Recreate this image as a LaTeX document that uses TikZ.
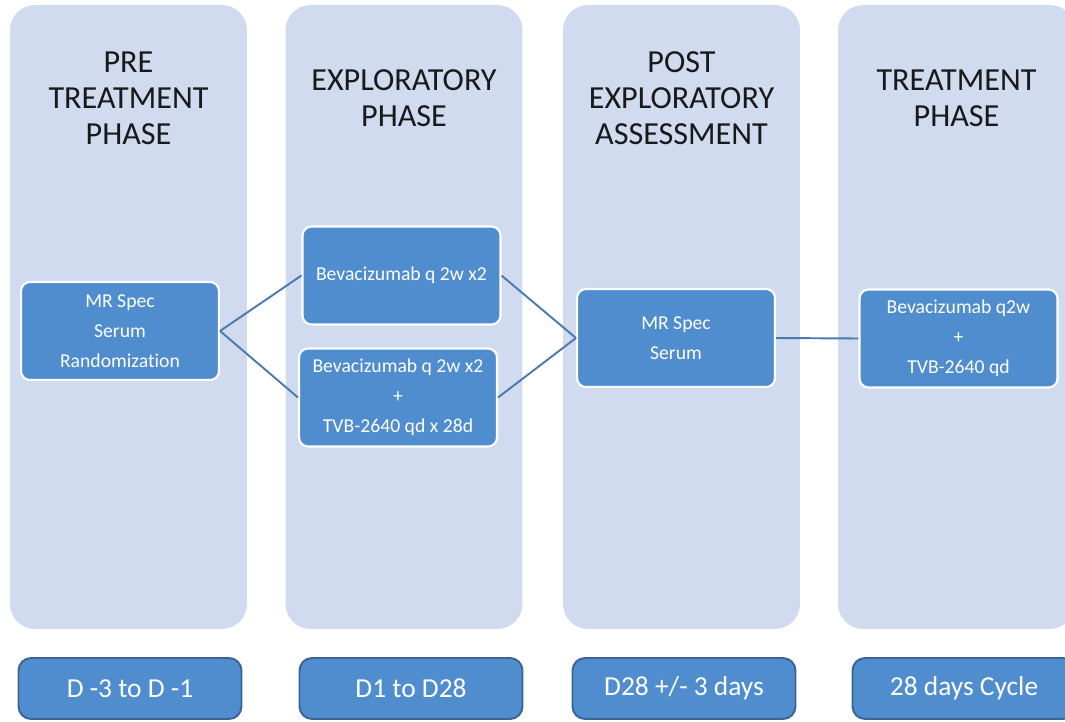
\documentclass[tikz,border=0pt]{standalone}
\usepackage{fontspec}
\setmainfont{Carlito}[Ligatures=NoCommon]
\usepackage{xcolor}
\definecolor{phasebg}{RGB}{208,219,239}
\definecolor{taskblue}{RGB}{80,141,207}
\definecolor{perioddraw}{RGB}{58,100,148}
\definecolor{linkblue}{RGB}{76,122,172}

\begin{document}
\begin{tikzpicture}[
    x=0.02cm, y=-0.02cm,
    phase/.style={rectangle, rounded corners=0.5cm, fill=phasebg, minimum width=4.74cm, minimum height=12.48cm},
    title/.style={align=center, font=\fontsize{18.3}{20.5}\selectfont, text=black!90},
    task/.style={rectangle, rounded corners=0.18cm, draw=white, line width=1.2pt, fill=taskblue, minimum width=3.96cm, minimum height=1.96cm, align=center, text=white, font=\fontsize{11.2}{17}\selectfont},
    period/.style={rectangle, rounded corners=0.25cm, draw=perioddraw, line width=1.1pt, fill=taskblue, minimum width=4.46cm, minimum height=1.22cm, text=white, font=\fontsize{15.6}{18}\selectfont},
    link/.style={draw=linkblue, line width=1.1pt}
]
    \path[use as bounding box, clip] (0,0) rectangle (1065,721);

    % phase columns
    \node[phase] (pre)  at (128.5,317) {};
    \node[phase] (expl) at (404,317) {};
    \node[phase] (post) at (681.5,317) {};
    \node[phase] (trt)  at (956.5,317) {};

    \node[title] (preT)  at (128.5,98.5) {PRE\\TREATMENT\\PHASE};
    \node[title] (explT) at (404,98.5) {EXPLORATORY\\PHASE};
    \node[title] (postT) at (681.5,98.5) {POST\\EXPLORATORY\\ASSESSMENT};
    \node[title] (trtT)  at (956.5,98.5) {TREATMENT\\PHASE};

    % steps inside the phases
    \node[task] (baseline) at (120,331) {MR Spec\\Serum\\Randomization};
    \node[task] (armA) at (401.5,275.5) {Bevacizumab q 2w x2};
    \node[task] (armB) at (398,397.5) {Bevacizumab q 2w x2\\+\\TVB-2640 qd x 28d};
    \node[task] (reassess) at (676,338) {MR Spec\\Serum};
    \node[task] (combo) at (958.5,338.5) {Bevacizumab q2w\\+\\TVB-2640 qd};

    \draw[link] (baseline.east) -- (armA.west);
    \draw[link] (baseline.east) -- (armB.west);
    \draw[link] (armA.east) -- (reassess.west);
    \draw[link] (armB.east) -- (reassess.west);
    \draw[link] (reassess.east) -- (combo.west);

    % timing below each phase
    \node[period] (d1) at (130,688.5) {D -3 to D -1};
    \node[period] (d2) at (411,688.5) {D1 to D28};
    \node[period] (d3) at (684,688.5) {D28 +/- 3 days};
    \node[period] (d4) at (964,688.5) {28 days Cycle};
\end{tikzpicture}
\end{document}
